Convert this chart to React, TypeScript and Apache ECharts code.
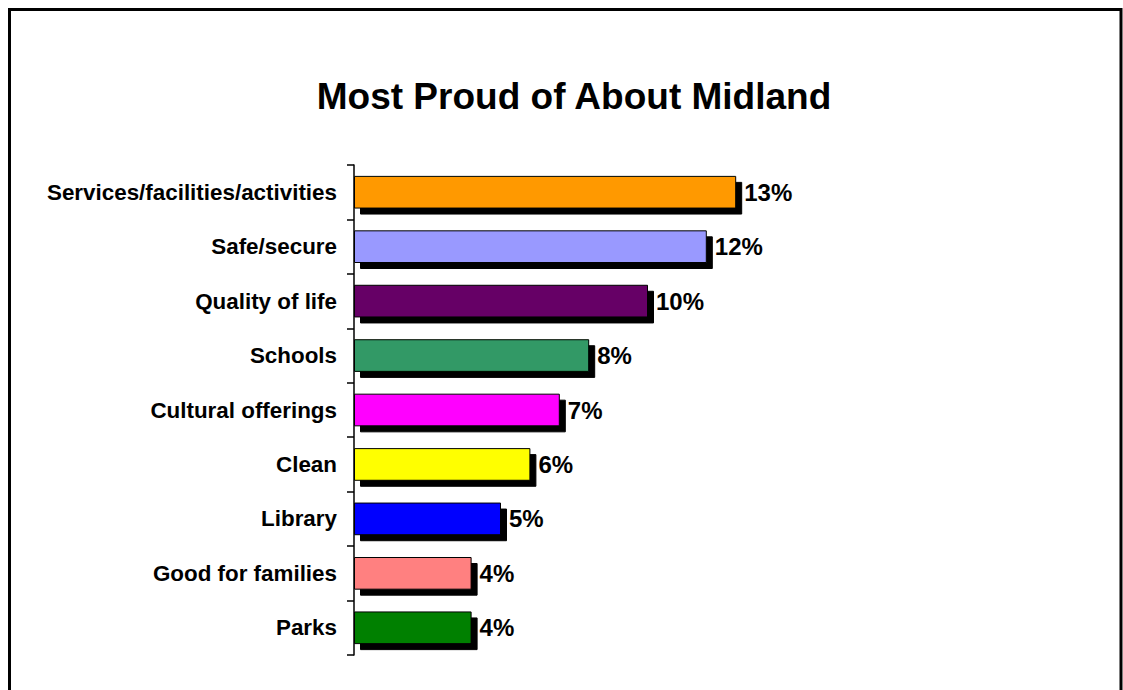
import React, { useEffect, useRef } from "react";
import * as echarts from "echarts";

const categories = [
  "Services/facilities/activities",
  "Safe/secure",
  "Quality of life",
  "Schools",
  "Cultural offerings",
  "Clean",
  "Library",
  "Good for families",
  "Parks",
];
const values = [13, 12, 10, 8, 7, 6, 5, 4, 4];
const colors = [
  "#FF9900",
  "#9999FF",
  "#660066",
  "#339966",
  "#FF00FF",
  "#FFFF00",
  "#0000FF",
  "#FF8080",
  "#008000",
];
const title = "Most Proud of About Midland";

const FONT = "Liberation Sans, Arial, sans-serif";

export default function App() {
  const ref = useRef<HTMLDivElement>(null);
  useEffect(() => {
    if (!ref.current) return;
    const chart = echarts.init(ref.current, null, { renderer: "svg" });
    chart.setOption({
      animation: false,
      backgroundColor: "#ffffff",
      graphic: [
        {
          type: "rect",
          shape: { x: 9.5, y: 9.5, width: 1111.5, height: 800 },
          style: { fill: "none", stroke: "#000", lineWidth: 3 },
          silent: true,
        },
        {
          type: "text",
          x: 574,
          y: 96,
          style: {
            text: title,
            fill: "#000",
            font: `bold 37px ${FONT}`,
            textAlign: "center",
            textVerticalAlign: "middle",
          },
          silent: true,
        },
      ],
      grid: { left: 354, top: 165, bottom: 35, right: 181, containLabel: false },
      xAxis: {
        type: "value",
        min: 0,
        max: 20,
        show: false,
      },
      yAxis: {
        type: "category",
        data: categories,
        inverse: true,
        axisLine: { show: true, lineStyle: { color: "#000", width: 1.5 } },
        axisTick: { show: true, length: 7, lineStyle: { color: "#000", width: 1.5 } },
        axisLabel: {
          margin: 17,
          color: "#000",
          fontFamily: FONT,
          fontWeight: "bold",
          fontSize: 22.4,
        },
        splitLine: { show: false },
      },
      series: [
        {
          type: "bar",
          data: values.map((v, i) => ({ value: v, itemStyle: { color: colors[i] } })),
          barWidth: "60%",
          itemStyle: {
            borderColor: "#000",
            borderWidth: 1,
            shadowColor: "#000",
            shadowBlur: 0,
            shadowOffsetX: 6,
            shadowOffsetY: 6,
          },
          label: {
            show: true,
            position: "right",
            distance: 8,
            formatter: "{c}%",
            color: "#000",
            fontFamily: FONT,
            fontWeight: "bold",
            fontSize: 24,
          },
        },
      ],
    });
    return () => chart.dispose();
  }, []);
  return (
    <div
      ref={ref}
      style={{ position: "fixed", left: 0, top: 0, width: 1123, height: 690 }}
    />
  );
}
